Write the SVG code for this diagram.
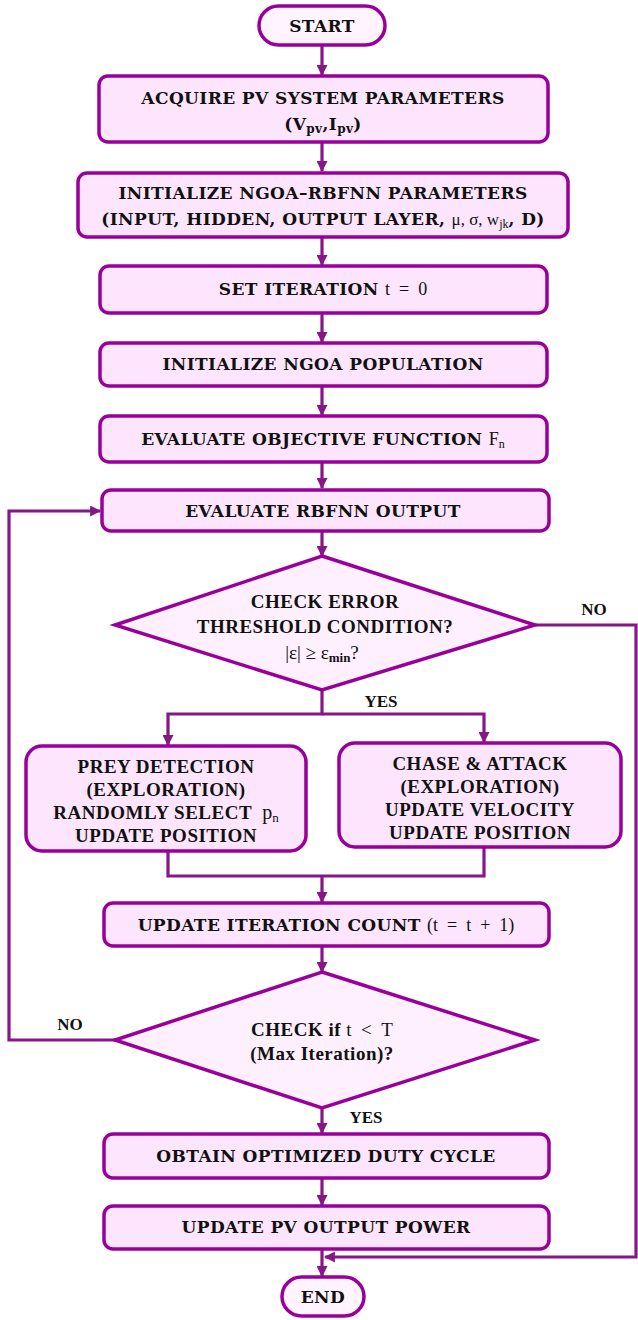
<svg xmlns="http://www.w3.org/2000/svg" width="638" height="1320" viewBox="0 0 638 1320">
  <defs>
    <marker id="arrow" viewBox="0 0 10 10" refX="9" refY="5" markerWidth="11" markerHeight="11" markerUnits="userSpaceOnUse" orient="auto">
      <path d="M0,0 L10,5 L0,10 Z" fill="#861786"/>
    </marker>
  </defs>
  <style>
    .box { fill: #fde6fd; stroke: #990099; stroke-width: 3.5; }
    .pill { fill: #fff4ff; stroke: #990099; stroke-width: 3.5; }
    .dia { fill: #fff0ff; stroke: #990099; stroke-width: 3.5; }
    .t { font-family: "DejaVu Serif", "Liberation Serif", serif; font-weight: bold; font-size: 17px; letter-spacing: 0.4px; fill: #111; text-anchor: middle; }
    .d { font-family: "Liberation Serif", "DejaVu Serif", serif; font-weight: bold; font-size: 19px; letter-spacing: 0.5px; fill: #111; text-anchor: middle; }
    .m { font-family: "Liberation Serif", "DejaVu Serif", serif; font-weight: normal; letter-spacing: 0; }
    .lab { font-family: "Liberation Serif", "DejaVu Serif", serif; font-weight: bold; font-size: 17px; fill: #111; text-anchor: middle; }
    .c { fill: none; stroke: #861786; stroke-width: 3.2; }
  </style>

  <!-- connectors -->
  <g id="connectors">
    <path class="c" d="M322,45 V75" marker-end="url(#arrow)"/>
    <path class="c" d="M322,142 V171" marker-end="url(#arrow)"/>
    <path class="c" d="M322,238 V265" marker-end="url(#arrow)"/>
    <path class="c" d="M322,314 V342" marker-end="url(#arrow)"/>
    <path class="c" d="M322,387 V415" marker-end="url(#arrow)"/>
    <path class="c" d="M322,463 V488" marker-end="url(#arrow)"/>
    <path class="c" d="M322,532 V556" marker-end="url(#arrow)"/>
    <!-- YES branch to both search phases -->
    <path class="c" d="M322,690 V714 H168 V745" marker-end="url(#arrow)"/>
    <path class="c" d="M322,714 H484 V742" marker-end="url(#arrow)"/>
    <!-- merge after the two phases -->
    <path class="c" d="M168,852 V876 H484 V848"/>
    <path class="c" d="M322,876 V902" marker-end="url(#arrow)"/>
    <path class="c" d="M322,947 V972" marker-end="url(#arrow)"/>
    <!-- NO loop back to RBFNN evaluation -->
    <path class="c" d="M115,1040 H9 V511 H100" marker-end="url(#arrow)"/>
    <!-- NO exit to END -->
    <path class="c" d="M535,625 H636 V1257 H325" marker-end="url(#arrow)"/>
    <path class="c" d="M322,1108 V1133" marker-end="url(#arrow)"/>
    <path class="c" d="M322,1179 V1205" marker-end="url(#arrow)"/>
    <path class="c" d="M322,1250 V1276" marker-end="url(#arrow)"/>
    <text class="lab" x="594" y="615">NO</text>
    <text class="lab" x="381" y="707">YES</text>
    <text class="lab" x="70" y="1030">NO</text>
    <text class="lab" x="366" y="1123">YES</text>
  </g>

  <g id="start">
    <rect class="pill" x="259" y="6" width="126" height="39" rx="19.5"/>
    <text class="t" x="322" y="32">START</text>
  </g>

  <g id="acquire">
    <rect class="box" x="99" y="76" width="449" height="66" rx="9"/>
    <text class="t" x="323" y="104">ACQUIRE PV SYSTEM PARAMETERS</text>
    <text class="t" x="323" y="130">(V<tspan font-size="12" dy="3">pv</tspan><tspan dy="-3">,I</tspan><tspan font-size="12" dy="3">pv</tspan><tspan dy="-3">)</tspan></text>
  </g>

  <g id="init-params">
    <rect class="box" x="78" y="173" width="490" height="64" rx="9"/>
    <text class="t" x="323" y="199">INITIALIZE NGOA–RBFNN PARAMETERS</text>
    <text class="t" x="323" y="225">(INPUT, HIDDEN, OUTPUT LAYER, <tspan class="m" font-size="17">μ, σ, w</tspan><tspan class="m" font-size="12" dy="3">jk</tspan><tspan dy="-3">, D)</tspan></text>
  </g>

  <g id="set-iteration">
    <rect class="box" x="100" y="266" width="447" height="47" rx="9"/>
    <text class="t" x="323" y="295">SET ITERATION <tspan class="m" font-size="18">t &#160;= &#160;0</tspan></text>
  </g>

  <g id="init-population">
    <rect class="box" x="100" y="343" width="447" height="43" rx="9"/>
    <text class="t" x="323" y="370">INITIALIZE NGOA POPULATION</text>
  </g>

  <g id="evaluate-objective">
    <rect class="box" x="100" y="416" width="447" height="46" rx="9"/>
    <text class="t" x="323" y="445">EVALUATE OBJECTIVE FUNCTION <tspan class="m" font-size="18">F</tspan><tspan class="m" font-size="12" dy="3">n</tspan></text>
  </g>

  <g id="evaluate-rbfnn">
    <rect class="box" x="102" y="490" width="447" height="41" rx="9"/>
    <text class="t" x="323" y="517">EVALUATE RBFNN OUTPUT</text>
  </g>

  <g id="check-error">
    <polygon class="dia" points="322,556 535,625 322,690 115,625"/>
    <text class="d" x="325" y="608">CHECK ERROR</text>
    <text class="d" x="325" y="633">THRESHOLD CONDITION?</text>
    <text class="d m" x="322" y="659">|ε| ≥ ε<tspan font-size="13" font-weight="bold" dy="3">min</tspan><tspan dy="-3">?</tspan></text>
  </g>

  <g id="prey-detection">
    <rect class="box" x="26" y="746" width="280" height="105" rx="16"/>
    <text class="d" x="166" y="773">PREY DETECTION</text>
    <text class="d" x="166" y="796">(EXPLORATION)</text>
    <text class="d" x="166" y="819">RANDOMLY SELECT &#160;<tspan class="m" font-size="20">p</tspan><tspan class="m" font-size="13" dy="3">n</tspan></text>
    <text class="d" x="166" y="842">UPDATE POSITION</text>
  </g>

  <g id="chase-attack">
    <rect class="box" x="339" y="743" width="282" height="104" rx="16"/>
    <text class="d" x="480" y="770">CHASE &amp; ATTACK</text>
    <text class="d" x="480" y="793">(EXPLORATION)</text>
    <text class="d" x="480" y="816">UPDATE VELOCITY</text>
    <text class="d" x="480" y="839">UPDATE POSITION</text>
  </g>

  <g id="update-iteration">
    <rect class="box" x="104" y="903" width="445" height="43" rx="9"/>
    <text class="t" x="326" y="931">UPDATE ITERATION COUNT <tspan class="m" font-size="18">(t &#160;= &#160;t &#160;+ &#160;1)</tspan></text>
  </g>

  <g id="check-max">
    <polygon class="dia" points="322,972 535,1040 322,1108 115,1040"/>
    <text class="d" x="322" y="1036">CHECK if <tspan class="m">t &#160;&lt; &#160;T</tspan></text>
    <text class="d" x="322" y="1060">(Max Iteration)?</text>
  </g>

  <g id="duty-cycle">
    <rect class="box" x="104" y="1134" width="445" height="44" rx="9"/>
    <text class="t" x="326" y="1162">OBTAIN OPTIMIZED DUTY CYCLE</text>
  </g>

  <g id="pv-power">
    <rect class="box" x="104" y="1206" width="445" height="43" rx="9"/>
    <text class="t" x="326" y="1233">UPDATE PV OUTPUT POWER</text>
  </g>

  <g id="end">
    <rect class="pill" x="282" y="1277" width="82" height="39" rx="19.5"/>
    <text class="t" x="323" y="1303">END</text>
  </g>
</svg>
